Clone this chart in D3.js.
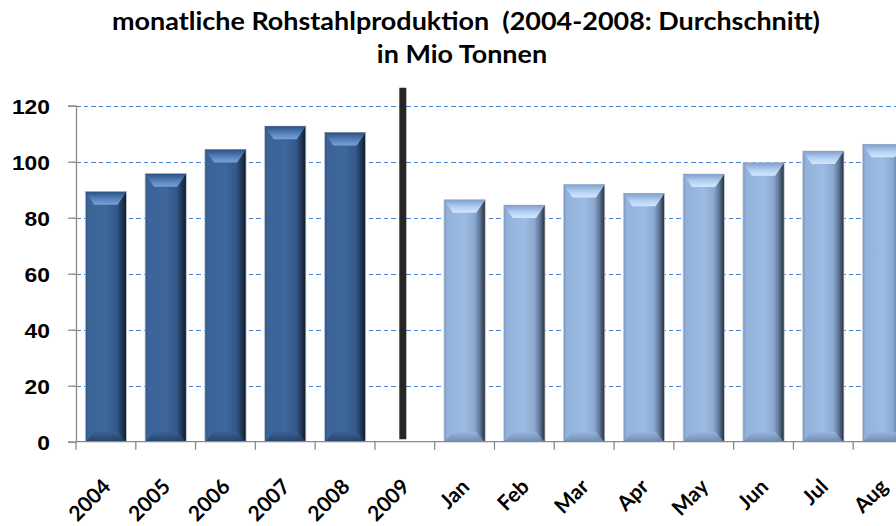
<!DOCTYPE html>
<html>
<head>
<meta charset="utf-8">
<script src="https://cdnjs.cloudflare.com/ajax/libs/d3/7.8.5/d3.min.js"></script>
<style>
	body { margin:0; background:#fff; overflow:hidden; }
	svg { display:block; font-family: Lato, "Open Sans", sans-serif; }
	.title { font-size:25px; font-weight:bold; fill:#000; white-space:pre; }
	.ylab { font-size:20.5px; font-weight:bold; fill:#000; }
	.xlab { font-size:21px; font-weight:bold; fill:#000; }
</style>
</head>
<body>
<svg id="chart"></svg>
<script>
//Base SVG values
let width = 896
let height = 526

//Data
let categories = ["2004","2005","2006","2007","2008","2009","Jan","Feb","Mar","Apr","May","Jun","Jul","Aug"]
let yearAverages = [89.3, 95.7, 104.4, 112.7, 110.4]
let months2009 = [86.4, 84.5, 91.9, 88.7, 95.6, 99.6, 103.8, 106.2]
let yTicks = [0, 20, 40, 60, 80, 100, 120]
let titleLines = ["monatliche Rohstahlproduktion  (2004-2008: Durchschnitt)", "in Mio Tonnen"]
let separatorAt = "2009"

let padding = {
	left:76,
	top:105.7,
	right:-17,
	bottom:84.3
}

let bars = []
yearAverages.forEach((v,i) => bars.push({cat: categories[i], value: v, kind: "dark"}))
months2009.forEach((v,i) => bars.push({cat: categories[6+i], value: v, kind: "light"}))

let svg = d3.select("#chart")
	.attr("width", width)
	.attr("height", height)

//Scales
let xScale = d3.scaleBand()
	.domain(categories)
	.range([padding.left, width - padding.right])
	.paddingInner(0.31)
	.paddingOuter(0.155)

let yScale = d3.scaleLinear()
	.domain([0,120])
	.range([height - padding.bottom, padding.top])

//Gradients
let defs = svg.append("defs")

function hGrad(id, stops) {
	let g = defs.append("linearGradient").attr("id", id)
		.attr("x1","0").attr("x2","1").attr("y1","0").attr("y2","0")
	stops.forEach(s => g.append("stop").attr("offset", s[0]).attr("stop-color", s[1]))
}
function vGrad(id, stops) {
	let g = defs.append("linearGradient").attr("id", id)
		.attr("x1","0").attr("x2","0").attr("y1","0").attr("y2","1")
	stops.forEach(s => g.append("stop").attr("offset", s[0]).attr("stop-color", s[1]))
}

hGrad("body-dark", [["0%","#2f5282"],["6%","#3b6397"],["50%","#3e679b"],["76%","#33588a"],["88%","#223a5a"],["100%","#0f1a29"]])
vGrad("top-dark", [["0%","#2c4f7e"],["55%","#5581bb"],["100%","#78a2d8"]])
vGrad("bot-dark", [["0%","#3a6196"],["100%","#243d60"]])
hGrad("body-light", [["0%","#7792b8"],["7%","#93b2db"],["50%","#9dbce4"],["74%","#8ca9d0"],["87%","#60789a"],["100%","#242b35"]])
vGrad("top-light", [["0%","#809fc9"],["55%","#b3d0f2"],["100%","#d2e7ff"]])
vGrad("bot-light", [["0%","#98b6de"],["100%","#6c86aa"]])

//Gridlines (snapped to the pixel grid so the blue stays crisp)
svg.append("g")
	.selectAll("line")
	.data(yTicks.filter(d => d > 0))
	.enter()
	.append("line")
		.attr("x1", padding.left)
		.attr("x2", width - padding.right)
		.attr("y1", d => Math.round(yScale(d)) + 0.5)
		.attr("y2", d => Math.round(yScale(d)) + 0.5)
		.attr("stroke", "#4a82d2")
		.attr("stroke-width", 1)
		.attr("stroke-dasharray", "4.5,3")
		.attr("shape-rendering", "crispEdges")

//Bars
let bw = xScale.bandwidth()
let bevelX = 9
let bevelTop = 13
let bevelBot = 10

let barG = svg.append("g")
	.selectAll("g")
	.data(bars)
	.enter()
	.append("g")
		.attr("transform", d => `translate(${xScale(d.cat)},0)`)

barG.append("rect")
	.attr("x", 0)
	.attr("y", d => yScale(d.value))
	.attr("width", bw)
	.attr("height", d => yScale(0) - yScale(d.value))
	.attr("fill", d => `url(#body-${d.kind})`)
	.attr("stroke", "#c9ced6")
	.attr("stroke-width", 0.8)

barG.append("path")
	.attr("d", d => {
		let t = yScale(d.value)
		return `M0,${t} L${bw},${t} L${bw-bevelX},${t+bevelTop} L${bevelX},${t+bevelTop} Z`
	})
	.attr("fill", d => `url(#top-${d.kind})`)

barG.append("path")
	.attr("d", d => {
		let b = yScale(0)
		return `M0.5,${b} L${bw-0.5},${b} L${bw-bevelX},${b-bevelBot} L${bevelX},${b-bevelBot} Z`
	})
	.attr("fill", d => `url(#bot-${d.kind})`)
	.attr("opacity", 0.85)

//Separator line (2009)
svg.append("line")
	.attr("x1", xScale(separatorAt) + xScale.bandwidth()/2 - 2)
	.attr("x2", xScale(separatorAt) + xScale.bandwidth()/2 - 2)
	.attr("y1", yScale(126.4))
	.attr("y2", yScale(0.9))
	.attr("stroke", "#262626")
	.attr("stroke-width", 7)

//Axis
let axisY = d3.axisLeft(yScale)
	.tickValues(yTicks)
	.tickSize(8)
	.tickPadding(18)

let gy = svg.append("g")
	.attr("transform", `translate(${padding.left},0)`)
	.call(axisY)
gy.select(".domain").attr("stroke", "#8a8a8a").attr("stroke-width", 1.3)
gy.selectAll(".tick line").attr("stroke", "#8a8a8a").attr("stroke-width", 1.3)
gy.selectAll(".tick text")
	.attr("class", "ylab")
	.attr("font-family", null).attr("font-size", null)
	.attr("dy", "0.36em")
	.attr("textLength", d => String(d).length * 12.7)
	.attr("lengthAdjust", "spacingAndGlyphs")

let step = xScale.step()
let bounds = categories.map((c,i) => padding.left + i*step)
bounds.push(padding.left + categories.length*step)

svg.append("line")
	.attr("x1", padding.left).attr("x2", width - padding.right)
	.attr("y1", yScale(0)).attr("y2", yScale(0))
	.attr("stroke", "#8a8a8a").attr("stroke-width", 1.3)

svg.append("g")
	.selectAll("line")
	.data(bounds)
	.enter()
	.append("line")
		.attr("x1", d => d).attr("x2", d => d)
		.attr("y1", yScale(0)).attr("y2", yScale(0) + 8)
		.attr("stroke", "#8a8a8a").attr("stroke-width", 1.3)

svg.append("g")
	.selectAll("text")
	.data(categories)
	.enter()
	.append("text")
		.attr("class", "xlab")
		.attr("text-anchor", "end")
		.attr("transform", d => `translate(${xScale(d) + bw/2 + 6},488) rotate(-45)`)
		.text(d => d)

//Title
let titles = svg.append("g")
	.selectAll("text")
	.data(titleLines)
	.enter()
	.append("text")
		.attr("class", "title")
		.attr("x", (d,i) => i == 0 ? 466 : 462)
		.attr("y", (d,i) => 30 + i*33)
		.attr("text-anchor", "middle")
		.text(d => d)

let stretch = 708 / titles.nodes()[0].getComputedTextLength()
titles
	.attr("textLength", function(){ return this.getComputedTextLength() * stretch })
	.attr("lengthAdjust", "spacingAndGlyphs")
</script>
</body>
</html>
